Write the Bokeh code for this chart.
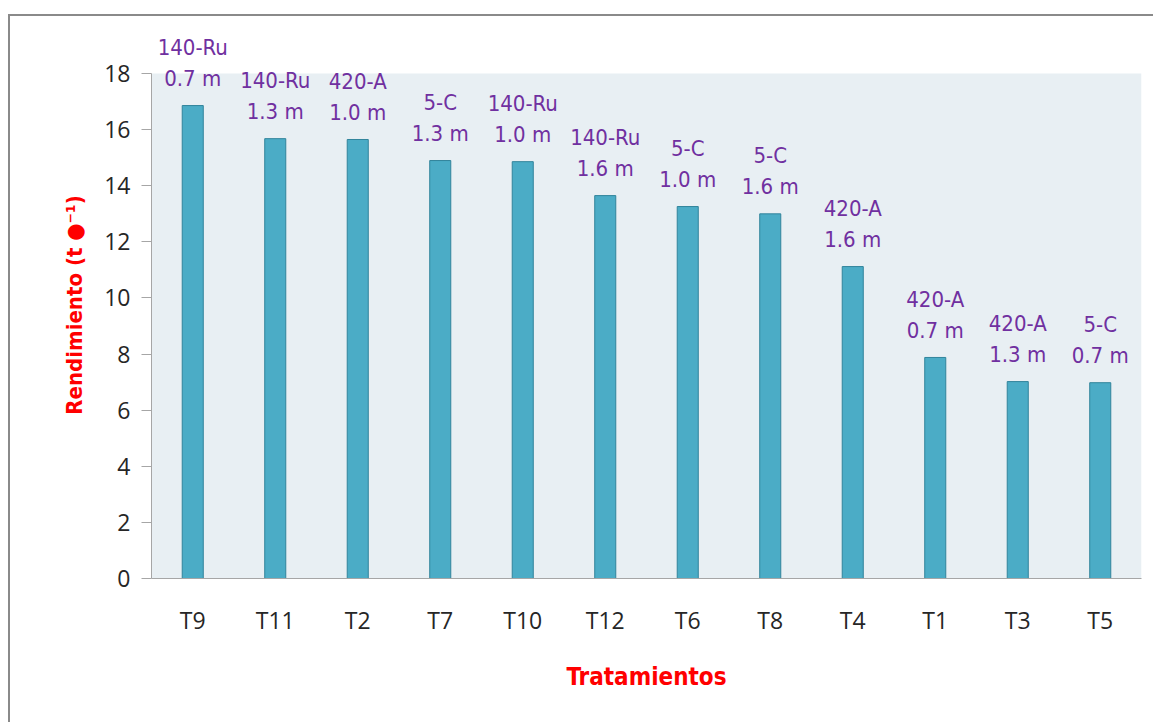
from bokeh.plotting import figure
from bokeh.models import ColumnDataSource, LabelSet, Range1d, FactorRange, FixedTicker, BoxAnnotation
from bokeh.core.properties import value
from bokeh.embed import file_html
from bokeh.resources import INLINE

tratamientos = ["T9", "T11", "T2", "T7", "T10", "T12", "T6", "T8", "T4", "T1", "T3", "T5"]
rendimiento = [16.86, 15.68, 15.65, 14.90, 14.86, 13.65, 13.26, 13.00, 11.12, 7.88, 7.02, 6.98]
variedad = ["140-Ru", "140-Ru", "420-A", "5-C", "140-Ru", "140-Ru", "5-C", "5-C", "420-A", "420-A", "420-A", "5-C"]
distancia = ["0.7 m", "1.3 m", "1.0 m", "1.3 m", "1.0 m", "1.6 m", "1.0 m", "1.6 m", "1.6 m", "0.7 m", "1.3 m", "0.7 m"]
y_ticks = [0, 2, 4, 6, 8, 10, 12, 14, 16, 18]

src = ColumnDataSource(dict(x=tratamientos, y=rendimiento, v=variedad, d=distancia))

COND = "DejaVu Sans Condensed"
LABF = "DejaVu Sans Condensed"

p = figure(width=1145, height=708, output_backend="svg", toolbar_location=None,
           x_range=FactorRange(*tratamientos, range_padding=0),
           y_range=Range1d(0, 19.5),
           min_border_left=141, min_border_right=14, min_border_top=15, min_border_bottom=146)
p.styles = {"border-top": "2px solid #8a8a8a", "border-left": "2px solid #8a8a8a",
            "margin-top": "14px", "margin-left": "8px"}

p.background_fill_color = "white"
p.border_fill_color = "white"
p.outline_line_color = None
p.add_layout(BoxAnnotation(bottom=y_ticks[0], top=y_ticks[-1], fill_color="#E8EFF3",
                           fill_alpha=1, line_color=None, level="underlay"))

p.vbar(x="x", top="y", width=0.255, source=src, fill_color="#4BACC6", line_color="#31849B", line_width=1)

p.xgrid.visible = False
p.ygrid.visible = False

p.yaxis.ticker = FixedTicker(ticks=y_ticks)
p.yaxis.bounds = (y_ticks[0], y_ticks[-1])
p.yaxis.minor_tick_line_color = None
p.yaxis.major_tick_out = 10
p.yaxis.major_tick_in = 0
p.yaxis.axis_line_color = "#A6A6A6"
p.yaxis.major_tick_line_color = "#A6A6A6"
p.yaxis.major_label_text_font = "Open Sans"
p.yaxis.major_label_text_font_size = "23px"
p.yaxis.major_label_text_color = "#262626"
p.yaxis.major_label_standoff = 11
p.yaxis.axis_label = "Rendimiento (t ●⁻¹)"
p.yaxis.axis_label_text_font = COND
p.yaxis.axis_label_text_font_style = "bold"
p.yaxis.axis_label_text_font_size = "22px"
p.yaxis.axis_label_text_color = "#FF0000"
p.yaxis.axis_label_standoff = 14

p.xaxis.major_tick_line_color = None
p.xaxis.minor_tick_line_color = None
p.xaxis.axis_line_color = "#A6A6A6"
p.xaxis.major_label_text_font = "Open Sans"
p.xaxis.major_label_text_font_size = "23px"
p.xaxis.major_label_text_color = "#262626"
p.xaxis.major_label_standoff = 19
p.xaxis.axis_label = "Tratamientos"
p.xaxis.axis_label_text_font = COND
p.xaxis.axis_label_text_font_style = "bold"
p.xaxis.axis_label_text_font_size = "24px"
p.xaxis.axis_label_text_color = "#FF0000"
p.xaxis.axis_label_standoff = 24

lab1 = LabelSet(x="x", y="y", text="v", source=src, y_offset=58, text_align="center",
                text_baseline="middle", text_color="#7030A0", text_font=value(LABF),
                text_font_size=value("22px"))
lab2 = LabelSet(x="x", y="y", text="d", source=src, y_offset=27, text_align="center",
                text_baseline="middle", text_color="#7030A0", text_font=value(LABF),
                text_font_size=value("22px"))
p.add_layout(lab1)
p.add_layout(lab2)

open("out.html", "w").write(file_html(p, INLINE))
